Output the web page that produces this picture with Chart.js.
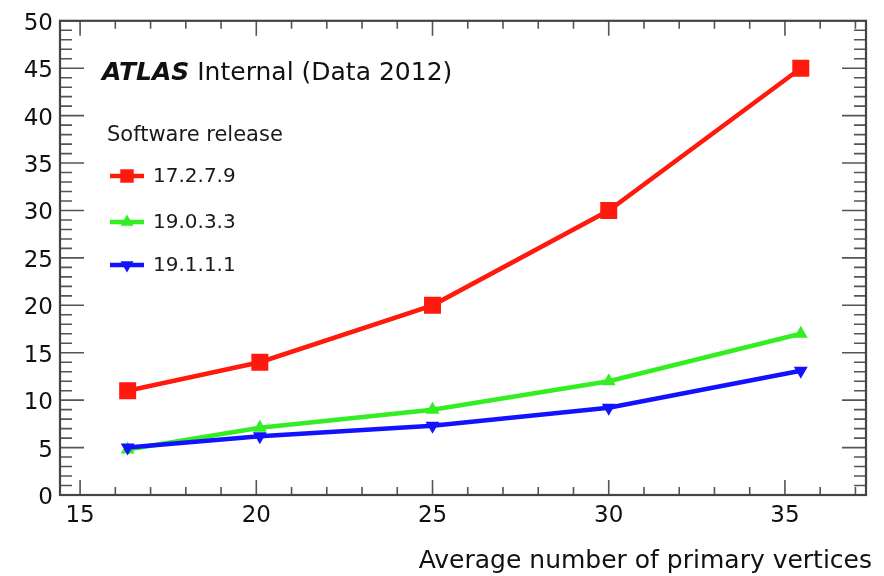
<!DOCTYPE html>
<html>
<head>
<meta charset="utf-8">
<script src="https://cdn.jsdelivr.net/npm/chart.js@4/dist/chart.umd.min.js"></script>
<style>
  html, body { margin: 0; padding: 0; background: #fff; }
  #wrap { width: 884px; height: 576px; position: relative; }
</style>
</head>
<body>
<div id="wrap"><canvas id="c"></canvas></div>
<script>
// ---- data ----
const avgVertices = [16.35, 20.1, 25.0, 30.0, 35.45];
const release17279 = [11, 14, 20, 30, 45];
const release19033 = [4.8, 7.1, 9.0, 12.0, 17.0];
const release19111 = [5.0, 6.2, 7.3, 9.2, 13.1];
const seriesNames = ['17.2.7.9', '19.0.3.3', '19.1.1.1'];
const xTickValues = [15, 20, 25, 30, 35];
const yTickValues = [0, 5, 10, 15, 20, 25, 30, 35, 40, 45, 50];
const xTitle = 'Average number of primary vertices';
const legendTitle = 'Software release';
const headerBold = 'ATLAS';
const headerRest = ' Internal (Data 2012)';

const RED = '#ff1a0d', GREEN = '#33ee22', BLUE = '#1212ff';
const FONT = '"DejaVu Sans", sans-serif';

function pts(ys) { return avgVertices.map((x, i) => ({ x: x, y: ys[i] })); }

function drawMarker(ctx, style, x, y, r, color) {
  ctx.save();
  ctx.fillStyle = color;
  ctx.beginPath();
  if (style === 'rect') {
    const s = r * Math.SQRT1_2;
    ctx.rect(x - s, y - s, 2 * s, 2 * s);
  } else {
    const dir = style === 'down' ? -1 : 1;
    for (let k = 0; k < 3; k++) {
      const a = k * 2 * Math.PI / 3;
      const px = x + Math.sin(a) * r;
      const py = y - dir * Math.cos(a) * r;
      if (k === 0) ctx.moveTo(px, py); else ctx.lineTo(px, py);
    }
    ctx.closePath();
  }
  ctx.fill();
  ctx.restore();
}

const rootFrame = {
  id: 'rootFrame',
  afterDraw(chart) {
    const ctx = chart.ctx, a = chart.chartArea;
    const xs = chart.scales.x, ys = chart.scales.y;
    ctx.save();
    // ticks (inward, all four sides)
    ctx.strokeStyle = '#555';
    ctx.lineWidth = 1.6;
    ctx.beginPath();
    for (let v = Math.ceil(xs.min); v <= xs.max; v++) {
      const px = xs.getPixelForValue(v);
      const len = (v % 5 === 0) ? 15 : 8;
      ctx.moveTo(px, a.bottom); ctx.lineTo(px, a.bottom - len);
      ctx.moveTo(px, a.top); ctx.lineTo(px, a.top + len);
    }
    for (let v = Math.ceil(ys.min); v <= ys.max; v++) {
      const py = ys.getPixelForValue(v);
      const len = (v % 5 === 0) ? 24 : 12;
      ctx.moveTo(a.left, py); ctx.lineTo(a.left + len, py);
      ctx.moveTo(a.right, py); ctx.lineTo(a.right - len, py);
    }
    ctx.stroke();
    // frame
    ctx.strokeStyle = '#444';
    ctx.lineWidth = 2.2;
    ctx.strokeRect(a.left, a.top, a.right - a.left, a.bottom - a.top);

    // header text
    ctx.fillStyle = '#111';
    ctx.textBaseline = 'alphabetic';
    ctx.textAlign = 'left';
    ctx.font = 'italic bold 25px ' + FONT;
    ctx.fillText(headerBold, 102, 80);
    const w = ctx.measureText(headerBold).width;
    ctx.font = '25px ' + FONT;
    ctx.fillText(headerRest, 102 + w, 80);

    // legend
    ctx.font = '21px ' + FONT;
    ctx.fillStyle = '#1a1a1a';
    ctx.fillText(legendTitle, 107, 141);
    const rows = [
      { name: seriesNames[0], color: RED, style: 'rect', r: 9.5, y: 176 },
      { name: seriesNames[1], color: GREEN, style: 'up', r: 7.5, y: 222 },
      { name: seriesNames[2], color: BLUE, style: 'down', r: 7.5, y: 265 }
    ];
    rows.forEach(row => {
      ctx.strokeStyle = row.color;
      ctx.lineWidth = 4.5;
      ctx.beginPath();
      ctx.moveTo(110, row.y); ctx.lineTo(144, row.y);
      ctx.stroke();
      drawMarker(ctx, row.style, 127, row.y, row.r, row.color);
      ctx.fillStyle = '#1a1a1a';
      ctx.font = '20px ' + FONT;
      ctx.textBaseline = 'middle';
      ctx.fillText(row.name, 153, row.y + 1);
    });

    // x axis title
    ctx.fillStyle = '#111';
    ctx.font = '25px ' + FONT;
    ctx.textAlign = 'right';
    ctx.textBaseline = 'middle';
    ctx.fillText(xTitle, 872, 561);
    ctx.restore();
  }
};

const tickFont = { family: FONT, size: 23 };

new Chart(document.getElementById('c'), {
  type: 'scatter',
  data: {
    datasets: [
      { label: seriesNames[0], data: pts(release17279), showLine: true, borderColor: RED, backgroundColor: RED,
        borderWidth: 4.5, pointStyle: 'rect', pointRadius: 12, pointBorderWidth: 0, order: 2 },
      { label: seriesNames[1], data: pts(release19033), showLine: true, borderColor: GREEN, backgroundColor: GREEN,
        borderWidth: 4.5, pointStyle: 'triangle', pointRadius: 8, pointBorderWidth: 0, order: 1 },
      { label: seriesNames[2], data: pts(release19111), showLine: true, borderColor: BLUE, backgroundColor: BLUE,
        borderWidth: 4.5, pointStyle: 'triangle', pointRotation: 180, pointRadius: 8, pointBorderWidth: 0, order: 0 }
    ]
  },
  options: {
    responsive: true,
    maintainAspectRatio: false,
    animation: false,
    layout: { padding: { top: 16, right: 18, left: 0, bottom: 0 } },
    plugins: { legend: { display: false }, tooltip: { enabled: false } },
    scales: {
      x: {
        type: 'linear', min: 14.43, max: 37.3,
        grid: { display: false, drawTicks: false }, border: { display: false },
        afterBuildTicks: s => { s.ticks = xTickValues.map(v => ({ value: v })); },
        afterFit: s => { s.height = 81; },
        ticks: { font: tickFont, color: '#111', padding: 7, maxRotation: 0, autoSkip: false }
      },
      y: {
        type: 'linear', min: 0, max: 50,
        grid: { display: false, drawTicks: false }, border: { display: false },
        afterBuildTicks: s => { s.ticks = yTickValues.map(v => ({ value: v })); },
        afterFit: s => { s.width = 60; },
        ticks: { font: tickFont, color: '#111', padding: 7, labelOffset: 3, autoSkip: false }
      }
    }
  },
  plugins: [rootFrame]
});
</script>
</body>
</html>
